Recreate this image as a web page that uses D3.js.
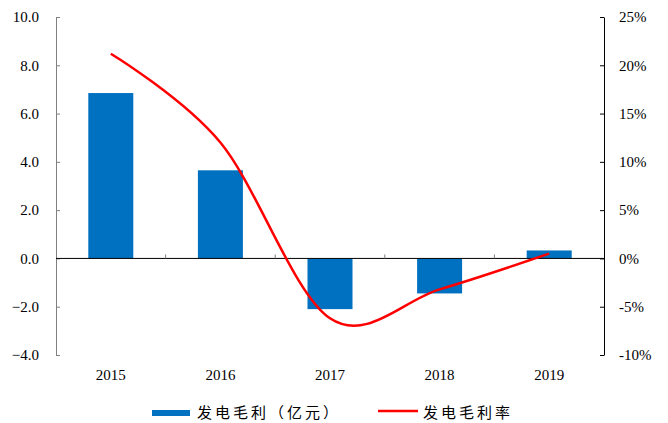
<!DOCTYPE html>
<html><head><meta charset="utf-8">
<script src="https://cdn.jsdelivr.net/npm/d3@7/dist/d3.min.js"></script>
<style>body{margin:0;background:#fff}svg{display:block}</style>
</head><body>
<script>
const categories = ["2015","2016","2017","2018","2019"];
const grossProfit = [6.85, 3.65, -2.1, -1.45, 0.33];
const grossMargin = [21.2, 12.0, -6.2, -3.2, 0.5];
const leftTicks = [-4, -2, 0, 2, 4, 6, 8, 10];
const rightTicks = [-10, -5, 0, 5, 10, 15, 20, 25];
const legendLabels = ["发电毛利（亿元）", "发电毛利率"];

const W = 668, H = 423;
const m = {left:56, right:604, top:17, bottom:355};
const svg = d3.select("body").append("svg").attr("width", W).attr("height", H);

const xb = d3.scaleBand().domain(categories).range([m.left, m.right]);
const yL = d3.scaleLinear().domain([-4, 10]).range([m.bottom, m.top]);
const yR = d3.scaleLinear().domain([-10, 25]).range([m.bottom, m.top]);

const serif = "'Liberation Serif','Times New Roman',serif";

// bars
svg.append("g").selectAll("rect").data(categories).join("rect")
  .attr("x", d => xb(d) + xb.bandwidth()/2 - 22.5)
  .attr("width", 45)
  .attr("y", (d,i) => yL(Math.max(0, grossProfit[i])))
  .attr("height", (d,i) => Math.abs(yL(grossProfit[i]) - yL(0)))
  .attr("fill", "#0070C0");

// left axis
const gl = svg.append("g").attr("transform", `translate(${m.left},0)`)
  .call(d3.axisLeft(yL).tickValues(leftTicks).tickFormat(d3.format(".1f")).tickSizeInner(-4).tickSizeOuter(0).tickPadding(17));
gl.select(".domain").attr("stroke", "#808080");
gl.selectAll(".tick line").attr("stroke", "#808080");
gl.selectAll("text").attr("font-family", serif).attr("font-size", 15).attr("fill", "#000");

// right axis
const gr = svg.append("g").attr("transform", `translate(${m.right},0)`)
  .call(d3.axisRight(yR).tickValues(rightTicks).tickFormat(d => d + "%").tickSizeInner(-4).tickSizeOuter(0).tickPadding(15));
gr.select(".domain").attr("stroke", "#000");
gr.selectAll(".tick line").attr("stroke", "#000");
gr.selectAll("text").attr("font-family", serif).attr("font-size", 15).attr("fill", "#000");

// zero line + category ticks
svg.append("line").attr("x1", m.left).attr("x2", m.right).attr("y1", yL(0)).attr("y2", yL(0)).attr("stroke", "#000");
const bounds = categories.slice(1).map(c => xb(c));
svg.append("g").selectAll("line").data(bounds).join("line")
  .attr("x1", d => d).attr("x2", d => d).attr("y1", yL(0)).attr("y2", yL(0) - 4).attr("stroke", "#808080");

// year labels
svg.append("g").selectAll("text").data(categories).join("text")
  .attr("x", d => xb(d) + xb.bandwidth()/2).attr("y", 380)
  .attr("text-anchor", "middle").attr("font-family", serif).attr("font-size", 15).text(d => d);

// line
const line = d3.line().x((d,i) => xb(categories[i]) + xb.bandwidth()/2).y(d => yR(d)).curve(d3.curveCatmullRom.alpha(0));
svg.append("path").datum(grossMargin).attr("d", line).attr("fill", "none").attr("stroke", "#FF0000").attr("stroke-width", 2.5);

// legend
const cjk = "'Noto Sans CJK SC','Noto Sans CJK JP',sans-serif";
svg.append("rect").attr("x", 152).attr("y", 410).attr("width", 38).attr("height", 6).attr("fill", "#0070C0");
svg.append("text").attr("x", 197).attr("y", 418).attr("font-family", cjk).attr("font-size", 15).attr("letter-spacing", 3).text(legendLabels[0]);
svg.append("line").attr("x1", 378).attr("x2", 418).attr("y1", 411).attr("y2", 411).attr("stroke", "#FF0000").attr("stroke-width", 2.5);
svg.append("text").attr("x", 423).attr("y", 418).attr("font-family", cjk).attr("font-size", 15).attr("letter-spacing", 3).text(legendLabels[1]);
</script>
</body></html>
